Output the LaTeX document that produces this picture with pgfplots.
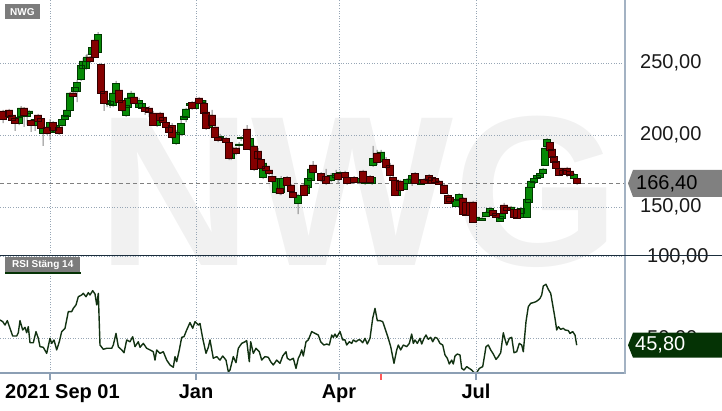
\documentclass[border=0pt]{standalone}
\usepackage{pgfplots}
\pgfplotsset{compat=1.18}
\usepackage{pgfplotstable}
\usepackage{fontspec}
\setmainfont{Liberation Sans}

\definecolor{upfill}{HTML}{068A06}
\definecolor{upline}{HTML}{003800}
\definecolor{dnfill}{HTML}{850000}
\definecolor{dnline}{HTML}{300000}
\definecolor{wick}{HTML}{858585}
\definecolor{gridc}{HTML}{97A6B5}
\definecolor{framec}{HTML}{8C9FB4}
\definecolor{sepline}{HTML}{1B2E3D}
\definecolor{rsic}{HTML}{123212}
\definecolor{rsitag}{HTML}{053305}
\definecolor{tagc}{HTML}{808080}
\definecolor{boxc}{HTML}{7C7C7C}
\definecolor{wmark}{HTML}{F1F1F1}

% up candles: x, body low, body high, wick low, wick high
\pgfplotstableread{
x lo hi wl wh
6 212.5 216.7 210.4 217.4
19 208.3 212.5 206.9 213.2
21 213.2 218.75 212.5 220.1
27 213.2 216.7 206.9 217.4
29 215.3 216.7 213.9 217.4
35 206.9 211.1 202.8 213.9
43 201.4 204.9 192.4 206.25
50 202.1 209.0 196.5 211.1
56 202.1 206.9 200.7 208.3
62 206.9 211.1 205.6 211.8
65 211.1 213.9 210.4 216.0
67 213.2 217.4 212.5 218.1
70 217.4 229.2 216.0 229.9
75 230.6 233.3 229.2 235.4
77 230.6 236.8 222.9 238.2
81 238.9 248.6 237.5 249.3
83 246.5 251.4 238.2 253.5
86 246.5 251.4 245.1 255.6
87 251.4 254.2 250.7 256.25
92 256.25 261.1 254.9 262.5
98 257.6 270.1 256.9 271.5
107 222.2 224.3 219.4 225.7
110 221.5 223.6 218.75 225.7
113 220.8 229.2 219.4 230.6
116 229.2 236.1 227.8 237.5
126 213.9 220.8 212.5 222.2
128 219.4 225.7 218.75 227.1
131 226.4 229.2 225.7 230.6
139 219.4 224.3 218.75 225.7
142 218.75 222.2 217.4 223.6
157 206.9 211.8 205.6 213.2
176 194.4 202.1 193.1 203.5
181 200.7 208.3 199.3 211.1
184 211.1 213.2 210.4 213.9
186 212.5 218.1 209.0 218.75
190 220.8 222.2 219.4 222.9
195 218.75 222.9 218.1 223.6
202 222.9 224.3 222.2 225.0
209 205.6 213.9 204.2 215.3
220 198.6 199.3 196.5 200.7
231 184.0 187.5 182.6 188.2
233 187.5 191.0 186.8 191.7
239 193.1 193.75 191.0 195.1
241 197.9 198.6 195.8 199.3
250 190.3 197.9 188.9 199.3
255 180.6 188.2 179.9 188.9
263 170.8 180.6 169.4 182.6
276 160.4 170.1 159.0 171.5
281 160.4 170.1 158.3 171.5
298 152.8 158.3 145.1 159.0
306 159.7 165.3 159.0 166.0
308 163.9 170.1 163.2 170.8
311 168.75 176.4 168.1 177.8
331 168.75 172.2 167.4 173.6
336 170.8 173.6 169.4 175.7
340 170.8 174.3 170.1 175.0
350 167.4 170.1 166.0 170.8
357 167.4 170.1 166.7 170.8
365 166.7 171.5 165.3 172.2
372 166.7 170.8 165.3 171.5
373 179.2 184.0 177.8 192.4
381 181.9 188.2 180.6 189.6
397 158.3 166.7 157.6 167.4
404 162.5 166.7 161.8 167.4
407 166.7 169.4 166.0 170.1
412 166.7 172.2 164.6 172.9
418 166.7 169.4 166.0 170.1
421 166.0 168.75 165.3 169.4
456 150.7 155.6 150.0 156.25
459 154.9 159.0 154.2 159.7
476 141.0 143.1 138.9 143.75
482 141.0 142.4 140.3 143.1
486 143.75 146.5 143.1 147.2
490 146.5 149.3 145.8 150.0
500 140.3 143.75 139.6 144.4
502 142.4 145.8 141.7 146.5
511 147.9 150.0 147.2 150.7
520 143.1 145.8 142.4 146.5
521 145.8 149.3 145.1 150.0
527 143.1 155.6 142.4 156.25
529 153.5 163.9 152.8 164.6
531 163.9 168.1 163.2 168.75
534 167.4 170.1 166.7 170.8
537 170.1 172.2 169.4 172.9
540 170.8 173.6 170.1 174.3
543 173.6 176.4 172.9 177.1
545 179.2 191.0 178.5 191.7
547 192.4 197.2 191.7 197.9
560 173.6 175.7 172.9 176.4
574 170.1 172.9 166.7 173.6
}\upc

% down candles
\pgfplotstableread{
x lo hi wl wh
3 211.1 216.7 208.3 217.4
9 213.2 217.4 211.8 218.1
12 210.4 213.9 209.0 214.6
15 208.3 211.8 202.8 212.5
24 213.9 218.75 205.6 219.4
31 206.9 210.4 202.1 211.1
38 209.7 213.9 208.3 214.6
41 204.9 211.8 202.1 212.5
47 201.4 205.6 200.0 208.3
53 203.5 209.0 201.4 209.7
59 201.4 205.6 200.0 206.9
73 227.1 229.2 226.4 229.9
90 251.4 254.2 250.0 254.9
95 254.2 266.0 253.5 267.4
101 229.2 249.3 227.8 250.0
104 222.2 230.6 216.7 234.0
119 222.9 231.25 221.5 232.6
122 217.4 224.3 216.0 225.7
134 222.2 226.4 221.5 227.8
145 216.7 219.4 213.9 220.8
149 216.0 218.75 212.5 220.1
153 206.9 215.3 206.25 216.7
160 210.4 215.3 209.0 216.0
163 209.0 212.5 207.6 213.2
166 205.6 209.0 204.2 210.4
169 202.1 205.6 200.7 206.9
172 198.6 206.9 197.2 208.3
192 218.75 222.9 217.4 223.6
199 222.2 225.7 221.5 226.4
204 215.3 222.2 214.6 222.9
206 204.9 216.0 203.5 224.3
212 206.9 213.9 205.6 217.4
215 198.6 205.6 197.2 206.9
218 196.5 198.6 195.1 199.3
226 195.1 197.9 193.75 198.6
229 184.0 195.1 182.6 195.8
236 187.5 191.0 186.1 191.7
247 190.3 204.2 189.6 206.9
254 176.4 192.4 175.0 193.1
258 184.0 188.9 182.6 191.0
261 177.1 183.3 175.7 186.8
266 175.7 178.5 174.3 179.9
269 173.6 175.7 172.2 177.1
272 168.1 171.5 166.7 172.9
280 159.7 163.2 158.3 163.9
287 165.3 170.8 164.6 171.5
291 161.1 165.3 160.4 166.0
293 156.9 160.4 156.25 161.1
304 158.3 165.3 157.6 166.0
313 174.3 179.2 173.6 181.9
321 168.75 173.6 167.4 174.3
326 166.7 171.5 165.3 176.4
338 169.4 173.6 166.7 174.3
345 170.8 174.3 170.1 175.0
347 166.7 170.8 165.3 171.5
354 167.4 170.8 166.0 171.5
363 167.4 175.0 166.0 175.7
370 167.4 171.5 166.0 172.2
377 181.25 187.5 179.2 189.6
386 177.8 183.3 176.4 184.7
390 172.2 179.2 170.8 180.6
393 168.75 170.8 168.1 171.5
395 158.3 168.75 157.6 169.4
400 161.8 168.1 161.1 168.75
415 166.7 173.6 166.0 174.3
424 166.7 169.4 166.0 170.1
429 168.75 172.2 168.1 172.9
432 166.7 170.8 166.0 171.5
435 167.4 170.1 166.7 170.8
439 166.0 168.1 165.3 168.75
444 159.7 165.3 159.0 166.0
448 152.8 158.3 152.1 159.0
450 154.2 156.9 153.5 157.6
463 145.1 156.25 144.4 156.9
466 144.4 153.5 143.75 154.2
473 139.6 153.5 138.9 154.2
493 144.4 147.9 143.75 148.6
496 143.1 145.8 142.4 146.5
504 145.8 151.4 145.1 152.8
507 147.9 150.0 147.2 150.7
514 143.1 148.6 142.4 149.3
517 142.4 148.6 141.7 149.3
550 189.6 195.1 188.9 195.8
552 184.7 190.3 184.0 191.0
554 181.25 185.4 180.6 186.1
556 177.1 181.9 176.4 182.6
559 172.2 177.1 171.5 177.8
563 172.9 175.7 172.2 176.4
567 172.9 177.1 170.8 177.8
570 172.2 175.0 171.5 175.7
577 166.4 170.1 165.3 170.8
}\dnc

% RSI (close, 14)
\pgfplotstableread{
x rsi
0 61.2
2.7 60.2
5 58.1
7.3 60.8
10 56.1
12.7 51.4
16.7 51.4
18.3 53.4
20 60.8
22.7 55.1
25 56.7
26.7 53.4
28.3 57.1
30 47.3
33.3 47.3
36 54.1
38.3 50.0
40 44.9
43.3 44.5
46.7 40.8
50 50.0
51.7 46.9
54 49.0
56.7 42.9
59.3 47.9
61.7 54.1
65 56.1
68.3 66.3
71.7 66.3
73.3 68.3
76 70.4
78.3 75.4
81.7 76.5
83.3 77.5
86 75.4
88.3 77.9
90 76.5
92.7 79.1
95 77.1
96.7 70.4
98.3 77.5
100 45.9
103.3 43.3
106.7 43.9
111.7 43.9
113.3 45.9
116 53.0
118.3 44.9
121.7 42.9
124 41.2
126.7 49.0
130 47.9
132.7 51.0
135 44.9
138.3 47.9
140 44.5
143.3 46.9
146.7 43.9
150 42.9
153.3 41.8
155 36.7
156.7 42.9
160 40.8
163.3 41.8
166.7 36.7
170 33.7
173.3 32.3
175 38.8
176.7 35.7
179.3 42.9
181.7 50.6
184 51.0
186.7 55.1
190 59.6
192.7 56.1
195 60.2
198.3 58.1
200 59.1
202.7 50.0
206 40.8
208.3 44.5
210 49.0
213.3 37.8
216.7 38.8
220 36.7
222.7 39.2
226 36.7
228.3 29.6
230 30.6
233.3 38.8
236 35.1
238.3 43.9
241.7 46.9
245 47.9
246.7 48.6
249.3 35.7
250.7 47.9
253.3 40.8
256 43.9
259.3 41.8
261.7 36.7
265 38.8
268.3 38.4
270.7 35.7
273.3 33.7
276.7 36.7
280 34.7
282.7 39.2
286 41.8
287.3 37.8
290 36.7
293.3 37.8
296 31.6
298.3 37.8
300 39.8
301.7 42.9
303.3 39.2
306 47.9
308.3 49.0
311.7 54.1
315 53.0
318.3 52.0
320.7 47.9
324 45.9
326.7 46.5
329.3 45.9
331.7 52.0
333.3 50.6
335 52.6
336.7 50.6
340 54.1
342.7 49.0
345 49.0
346.7 45.9
349.3 47.9
351.7 46.9
353.3 49.0
356 47.9
358.3 49.0
360 49.0
362.7 47.3
365 50.0
367.3 46.5
370 50.0
372.7 62.2
375 68.3
377.3 60.8
380 60.8
382.7 60.2
385 56.1
388.3 50.0
390.7 44.9
394 34.7
396.7 42.9
398.3 45.9
400.7 42.9
403.3 45.9
406.7 44.9
409.3 46.9
411.7 52.6
413.3 46.9
415 49.0
417.3 46.9
420 50.0
421.7 46.5
424 50.0
426 52.0
428.3 49.4
430.7 50.6
432.7 47.9
435 50.6
437.3 50.0
440 46.9
442.7 45.9
445 39.8
447.3 37.8
449.3 34.3
451.7 36.7
453.3 34.3
455 39.2
457.3 40.4
460 39.8
461.7 31.6
464 30.6
466.7 32.7
469.3 31.6
471.7 30.6
474 29.0
476.7 29.0
479.3 31.6
482.7 32.7
486 44.9
488.3 45.9
490.7 42.9
493.3 40.4
496 37.1
498.3 38.8
500.7 41.2
503.3 53.4
505 49.4
506.7 45.9
509.3 50.0
511.7 50.6
514 41.2
516.7 41.8
519.3 46.9
521.7 45.9
523.3 41.8
526 60.2
528.3 69.3
530.7 71.4
533.3 71.8
536 72.4
538.3 73.4
540 74.4
541.7 76.5
543.3 82.0
546 83.0
548.3 79.9
550.7 77.5
552.7 70.4
555 62.2
556.7 55.1
558.3 57.1
560.7 55.5
563.3 56.1
565 55.1
568.3 54.7
570 53.0
572.7 54.1
575 52.0
576.7 45.8
}\rsi

\pgfplotsset{
  pricepanel/.style={scale only axis, width=625pt, height=256pt,
    at={(0pt,154pt)}, anchor=south west,
    xmin=0, xmax=625, ymin=115.97, ymax=293.75},
  candles/.style={pricepanel, hide axis, ybar stacked, bar width=7.5pt},
  gridlook/.style={grid=major,
    major grid style={gridc, line width=0.9pt, dash pattern=on 1pt off 1.6pt}},
  rlabel/.style={font=\fontsize{20}{24}\selectfont, text=black!90,
    anchor=west, inner sep=0pt, xshift=15pt},
}

\begin{document}
\begin{tikzpicture}
\useasboundingbox (0,0) rectangle (722pt,410pt);

% watermark
\node[anchor=base west, inner sep=0pt, text=wmark,
  font=\bfseries\fontsize{214}{214}\selectfont] at (97pt,145pt) {NWG};

% price panel: grid, labels, last price line
\begin{axis}[pricepanel, gridlook,
  axis line style={draw=none},
  xtick={50,196,339,476}, xticklabels={}, xtick style={draw=none},
  ytick={150,200,250}, yticklabels={{150,00},{200,00},{250,00}},
  ytick pos=right, yticklabel pos=right, ytick style={draw=none},
  yticklabel style={rlabel}]
\addplot[tagc, line width=0.9pt, dash pattern=on 4pt off 3pt]
  coordinates {(0,166.4) (625,166.4)};
\coordinate (ptag) at (axis cs:625,166.4);
\end{axis}

% RSI panel
\begin{axis}[scale only axis, width=625pt, height=117pt,
  at={(0pt,37pt)}, anchor=south west,
  xmin=0, xmax=625, ymin=28.8, ymax=100.3, gridlook,
  axis line style={draw=none},
  xtick={50,196,339,476}, xticklabels={{},Jan,Apr,Jul}, xtick pos=lower,
  tick align=outside, major tick length=7pt,
  xtick style={framec, line width=1.5pt},
  xticklabel style={font=\bfseries\fontsize{20}{24}\selectfont, anchor=base, yshift=-18pt},
  extra x ticks={381}, extra x tick labels={},
  extra x tick style={grid=none, xtick style={red!65!white, line width=1.2pt}},
  ytick={50,100}, yticklabels={{50,00},{100,00}},
  ytick pos=right, yticklabel pos=right, ytick style={draw=none},
  yticklabel style={rlabel}]
\addplot[rsic, line width=1.4pt, line join=round] table[x=x, y=rsi]{\rsi};
\coordinate (rtag) at (axis cs:625,45.8);
\end{axis}

% wicks
\begin{axis}[candles, bar width=1pt]
\addplot[draw=none, fill=none] table[x=x, y=wl]{\upc};
\addplot[draw=none, fill=wick] table[x=x, y expr=\thisrow{wh}-\thisrow{wl}]{\upc};
\end{axis}
\begin{axis}[candles, bar width=1pt]
\addplot[draw=none, fill=none] table[x=x, y=wl]{\dnc};
\addplot[draw=none, fill=wick] table[x=x, y expr=\thisrow{wh}-\thisrow{wl}]{\dnc};
\end{axis}

% bodies
\begin{axis}[candles]
\addplot[draw=none, fill=none] table[x=x, y=lo]{\upc};
\addplot[draw=upline, fill=upfill, line width=0.8pt] table[x=x, y expr=\thisrow{hi}-\thisrow{lo}]{\upc};
\end{axis}
\begin{axis}[candles]
\addplot[draw=none, fill=none] table[x=x, y=lo]{\dnc};
\addplot[draw=dnline, fill=dnfill, line width=0.8pt] table[x=x, y expr=\thisrow{hi}-\thisrow{lo}]{\dnc};
\end{axis}

% frame and panel separator
\draw[framec, line width=1.8pt] (0pt,37pt) -- (625pt,37pt);
\draw[framec!80!white, line width=1.8pt] (625pt,36.1pt) -- (625pt,410pt);
\draw[sepline, line width=1.6pt] (0pt,154.5pt) -- (722pt,154.5pt);

% first date label
\node[anchor=base west, inner sep=0pt, font=\bfseries\fontsize{20}{24}\selectfont]
  at (5pt,12pt) {2021 Sep 01};

% panel titles
\node[fill=boxc, text=white, anchor=north west, inner xsep=5pt, inner ysep=0pt,
  minimum height=15pt, font=\bfseries\fontsize{10}{12}\selectfont]
  at (5pt,406pt) {NWG};
\node[fill=boxc, text=white, anchor=north west, inner xsep=7pt, inner ysep=0pt,
  minimum height=15pt, font=\bfseries\fontsize{10}{12}\selectfont]
  (rsilab) at (5pt,153pt) {RSI Stäng 14};
\fill[rsitag] (rsilab.south west) rectangle ([yshift=-2pt]rsilab.south east);

% last value tags
\fill[tagc] ([shift={(97pt,13.5pt)}]ptag) -- ([shift={(8pt,13.5pt)}]ptag)
  -- ([shift={(3pt,0pt)}]ptag) -- ([shift={(8pt,-13.5pt)}]ptag)
  -- ([shift={(97pt,-13.5pt)}]ptag) -- cycle;
\node[anchor=west, inner sep=0pt, text=black, font=\fontsize{20}{24}\selectfont]
  at ([xshift=11pt]ptag) {166,40};
\fill[rsitag] ([shift={(97pt,12.5pt)}]rtag) -- ([shift={(8pt,12.5pt)}]rtag)
  -- ([shift={(3pt,0pt)}]rtag) -- ([shift={(8pt,-12.5pt)}]rtag)
  -- ([shift={(97pt,-12.5pt)}]rtag) -- cycle;
\node[anchor=west, inner sep=0pt, text=white, font=\fontsize{20}{24}\selectfont]
  at ([xshift=10pt]rtag) {45,80};
\end{tikzpicture}
\end{document}
